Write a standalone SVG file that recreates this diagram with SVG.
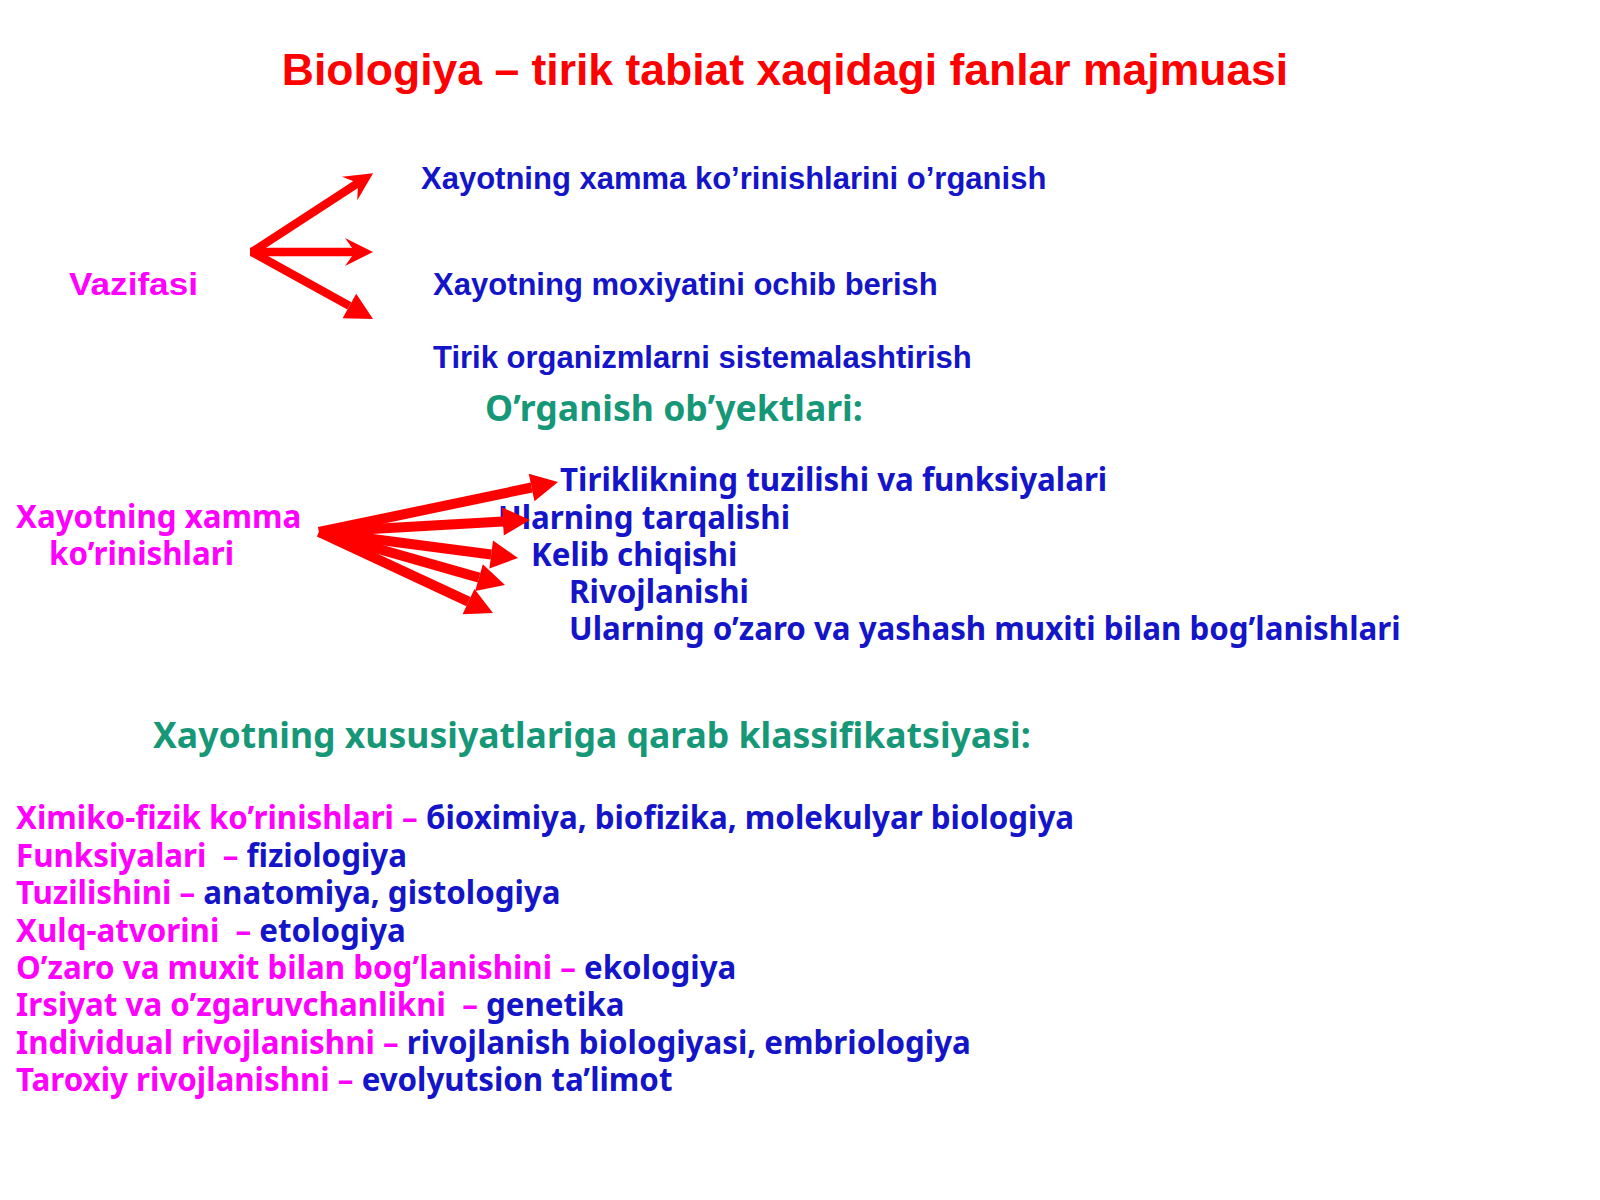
<svg xmlns="http://www.w3.org/2000/svg" width="1600" height="1200" viewBox="0 0 1600 1200">
<style>
.title{font-family:"Liberation Sans",Arial,sans-serif;font-weight:bold;font-size:44.5px;fill:#ff0000}
.arial{font-family:"Liberation Sans",Arial,sans-serif;font-weight:bold;font-size:31px}
.noto{font-family:"Noto Sans","Open Sans",sans-serif;font-weight:bold;font-size:31.3px;white-space:pre}
.head{font-family:"Noto Sans","Open Sans",sans-serif;font-weight:bold;font-size:35.6px;fill:#169878}
.mag{fill:#ff00ff}
.blue{fill:#1414c8}
.shaft{stroke:#ff0000;fill:none;stroke-linecap:butt}
.top{stroke-width:8.5}
.low{stroke-width:10}
</style>
<defs>
<marker id="barb" markerUnits="userSpaceOnUse" orient="auto" refX="0" refY="0" markerWidth="60" markerHeight="60" overflow="visible">
<path d="M-10,-14 L18,0 L-10,14 L0,0 Z" fill="#ff0000"/>
</marker>
<marker id="tri" markerUnits="userSpaceOnUse" orient="auto" refX="0" refY="0" markerWidth="60" markerHeight="60" overflow="visible">
<path d="M0,-14 L27,0 L0,14 Z" fill="#ff0000"/>
</marker>
</defs>
<rect width="1600" height="1200" fill="#ffffff"/>
<g id="title"><text class="title" x="785" y="85" text-anchor="middle">Biologiya – tirik tabiat xaqidagi fanlar majmuasi</text></g>
<g id="vazifasi"><text class="arial mag" x="69" y="295" font-size="35" textLength="129" lengthAdjust="spacingAndGlyphs">Vazifasi</text></g>
<g id="v1"><text class="arial blue" x="421" y="189">Xayotning xamma ko’rinishlarini o’rganish</text></g>
<g id="v2"><text class="arial blue" x="433" y="295">Xayotning moxiyatini ochib berish</text></g>
<g id="v3"><text class="arial blue" x="433" y="368">Tirik organizmlarni sistemalashtirish</text></g>
<g id="h1"><text class="head" x="485" y="421">O’rganish ob’yektlari:</text></g>
<g id="source"><text class="noto mag" x="16" y="528">Xayotning xamma</text><text class="noto mag" x="49" y="565">ko’rinishlari</text></g>
<g id="o1"><text class="noto blue" x="560" y="491">Tiriklikning tuzilishi va funksiyalari</text></g>
<g id="o2"><text class="noto blue" x="498" y="529">Ularning tarqalishi</text></g>
<g id="o3"><text class="noto blue" x="531" y="566">Kelib chiqishi</text></g>
<g id="o4"><text class="noto blue" x="569" y="603">Rivojlanishi</text></g>
<g id="o5"><text class="noto blue" x="569" y="640">Ularning o’zaro va yashash muxiti bilan bog’lanishlari</text></g>
<g id="h2"><text class="head" x="153" y="748">Xayotning xususiyatlariga qarab klassifikatsiyasi:</text></g>
<g id="list">
<text class="noto mag" x="16" y="829">Ximiko-fizik ko’rinishlari – <tspan class="blue">бioximiya, biofizika, molekulyar biologiya</tspan></text>
<text class="noto mag" x="16" y="867">Funksiyalari  – <tspan class="blue">fiziologiya</tspan></text>
<text class="noto mag" x="16" y="904">Tuzilishini – <tspan class="blue">anatomiya, gistologiya</tspan></text>
<text class="noto mag" x="16" y="942">Xulq-atvorini  – <tspan class="blue">etologiya</tspan></text>
<text class="noto mag" x="16" y="979">O’zaro va muxit bilan bog’lanishini – <tspan class="blue">ekologiya</tspan></text>
<text class="noto mag" x="16" y="1016">Irsiyat va o’zgaruvchanlikni  – <tspan class="blue">genetika</tspan></text>
<text class="noto mag" x="16" y="1054">Individual rivojlanishni – <tspan class="blue">rivojlanish biologiyasi, embriologiya</tspan></text>
<text class="noto mag" x="16" y="1091">Taroxiy rivojlanishni – <tspan class="blue">evolyutsion ta’limot</tspan></text>
</g>
<g id="connectors">
<line class="shaft top" x1="252" y1="252" x2="358" y2="183" marker-end="url(#barb)"/>
<line class="shaft top" x1="250" y1="252" x2="355" y2="252" marker-end="url(#barb)"/>
<line class="shaft top" x1="252" y1="252" x2="349.4" y2="305.9" marker-end="url(#tri)"/>
<line class="shaft low" x1="319" y1="532" x2="531.6" y2="487.5" marker-end="url(#tri)"/>
<line class="shaft low" x1="319" y1="532" x2="503" y2="521.5" marker-end="url(#tri)"/>
<line class="shaft low" x1="319" y1="532" x2="491.2" y2="554.5" marker-end="url(#tri)"/>
<line class="shaft low" x1="319" y1="532" x2="479" y2="577.6" marker-end="url(#tri)"/>
<line class="shaft low" x1="319" y1="532" x2="468.5" y2="601.6" marker-end="url(#tri)"/>
</g>
</svg>
